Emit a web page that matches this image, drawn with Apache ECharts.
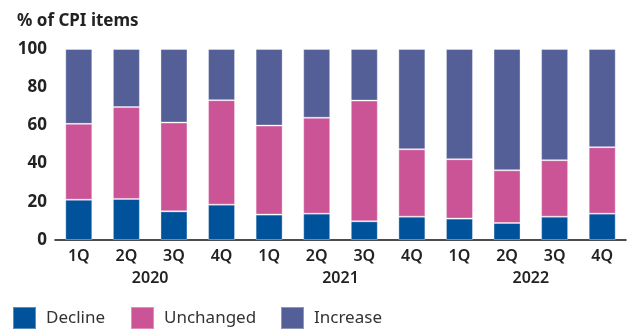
<!DOCTYPE html>
<html>
<head>
<meta charset="utf-8">
<script src="https://cdn.jsdelivr.net/npm/echarts@6/dist/echarts.min.js"></script>
<style>
  html, body { margin: 0; padding: 0; background: #fff; }
  #chart { width: 633px; height: 329px; }
</style>
</head>
<body>
<div id="chart"></div>
<script>
  // quarters and years
  const quarters = ['1Q', '2Q', '3Q', '4Q', '1Q', '2Q', '3Q', '4Q', '1Q', '2Q', '3Q', '4Q'];
  const years = ['2020', '2021', '2022'];

  // % of CPI items
  const decline   = [21.1, 21.5, 15.0, 18.5, 13.3, 13.8,  9.8, 12.2, 11.2,  8.9, 12.2, 13.8];
  const unchanged = [39.7, 48.1, 46.5, 54.7, 46.6, 50.2, 63.2, 35.3, 31.1, 27.6, 29.6, 34.8];
  const increase  = [39.2, 30.4, 38.5, 26.8, 40.1, 36.0, 27.0, 52.5, 57.7, 63.5, 58.2, 51.4];

  const seriesNames = ['Decline', 'Unchanged', 'Increase'];
  const yTicks = [0, 20, 40, 60, 80, 100];

  const font = '"Noto Sans", "Open Sans", sans-serif';
  const txt = '#222';

  let myChart = echarts.init(document.getElementById('chart'));

  function barSeries(name, data, color) {
    return {
      name: name,
      type: 'bar',
      stack: 'cpi',
      barWidth: 27,
      data: data,
      itemStyle: {
        color: color,
        borderColor: 'rgba(255,255,255,0.35)',
        borderWidth: 1
      }
    };
  }

  // one legend per item so each sits where the original has it
  const legendLeft = [12, 130, 280];
  let legends = seriesNames.map(function (n, i) {
    return {
      left: legendLeft[i],
      top: 306,
      padding: 0,
      itemWidth: 23,
      itemHeight: 22,
      icon: 'rect',
      textStyle: { fontSize: 17, color: '#333', padding: [0, 0, 0, 5] },
      data: [n]
    };
  });

  myChart.setOption({
    animation: false,
    textStyle: { fontFamily: font },
    title: {
      text: '% of CPI items',
      left: 12,
      top: 8,
      textStyle: { fontSize: 17, fontWeight: 'bold', color: txt, fontFamily: font }
    },
    legend: legends,
    grid: { left: 55, right: 7, top: 49, bottom: 89 },
    xAxis: [
      {
        type: 'category',
        data: quarters,
        axisLine: { lineStyle: { color: '#111', width: 1.5 } },
        axisTick: { show: false },
        axisLabel: { fontSize: 16, fontWeight: 600, color: txt, margin: 8 }
      },
      {
        type: 'category',
        data: years,
        position: 'bottom',
        offset: 22,
        axisLine: { show: false },
        axisTick: { show: false },
        axisLabel: { fontSize: 16, fontWeight: 600, color: txt, margin: 8 }
      }
    ],
    yAxis: {
      type: 'value',
      min: 0,
      max: 100,
      interval: 20,
      axisLine: { show: false },
      axisTick: { show: false },
      splitLine: { show: false },
      axisLabel: {
        fontSize: 17,
        fontWeight: 'bold',
        color: txt,
        margin: 8,
        formatter: function (v) { return yTicks.indexOf(v) >= 0 ? v : ''; }
      }
    },
    series: [
      barSeries('Decline', decline, '#00529b'),
      barSeries('Unchanged', unchanged, '#cb5496'),
      barSeries('Increase', increase, '#535f96')
    ]
  });
</script>
</body>
</html>
